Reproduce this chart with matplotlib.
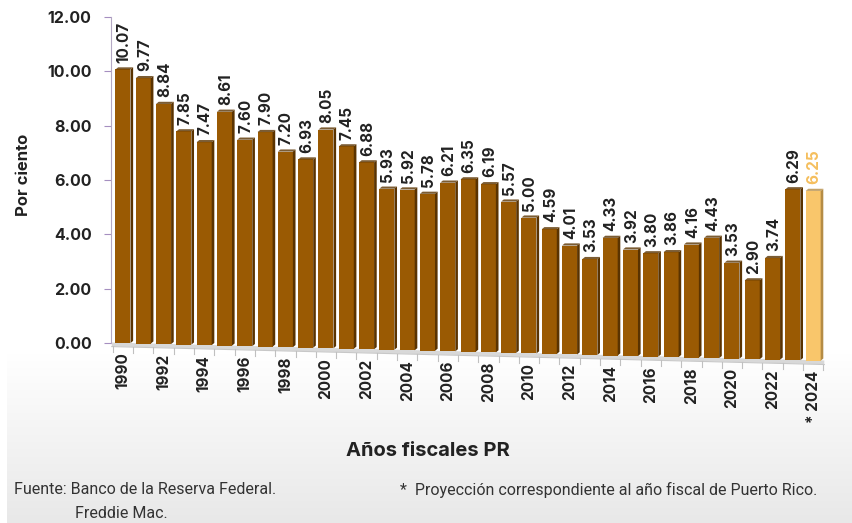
import numpy as np
import matplotlib.pyplot as plt
from matplotlib.patches import Polygon

# Data
years = list(range(1990, 2025))
values = [10.07, 9.77, 8.84, 7.85, 7.47, 8.61, 7.60, 7.90, 7.20, 6.93,
          8.05, 7.45, 6.88, 5.93, 5.92, 5.78, 6.21, 6.35, 6.19, 5.57,
          5.00, 4.59, 4.01, 3.53, 4.33, 3.92, 3.80, 3.86, 4.16, 4.43,
          3.53, 2.90, 3.74, 6.29, 6.25]
value_labels = ['%.2f' % v for v in values]
tick_labels = [str(y) for y in years[::2]]
tick_labels[-1] = '* 2024'
yticks = [0, 2, 4, 6, 8, 10, 12]

plt.rcParams['font.family'] = ['Inter', 'DejaVu Sans']

fig = plt.figure(figsize=(8.53, 5.23), dpi=100)

# grey gradient panel at the bottom
bg = fig.add_axes([7 / 853, 0, 1 - 7 / 853, 170 / 523], zorder=0)
g = np.linspace(1.0, 0.91, 100)
grad = np.dstack([g, g, g]).reshape(100, 1, 3)
bg.imshow(grad, aspect='auto', extent=[0, 1, 0, 1], origin='upper')
bg.axis('off')

ax = fig.add_axes([111 / 853, 143 / 523, 719 / 853, 370 / 523], zorder=1)
ax.patch.set_alpha(0)

n = len(values)
x = np.arange(n)
slope = 0.65 / (n - 1)          # perspective drop of the floor
shift = slope * x
w = 0.74
front = '#9a5a03'
side = '#5a3300'
last_front = '#f9c66b'
last_side = '#b58c45'

# floor
x0, x1 = -0.55, n - 0.45
fl = Polygon([[x0, 0.02], [x1, -slope * x1 + 0.02],
              [x1, -slope * x1 - 0.12], [x0, -0.12]],
             closed=True, fc='#d8d8d8', ec='none', zorder=1)
ax.add_patch(fl)
ax.plot([x0, x1], [-0.13, -slope * x1 - 0.13], color='#c8c8c8', lw=0.8, zorder=1)
for b in np.arange(-0.5, n, 1.0):
    yb = -slope * b - 0.13
    ax.plot([b, b], [yb, yb - 0.22], color='#c0c0c0', lw=0.8, zorder=1)

for i, v in enumerate(values):
    fc = last_front if i == n - 1 else front
    sc = last_side if i == n - 1 else side
    b = -shift[i]
    ax.bar(x[i], v, width=w, bottom=b, color=fc, zorder=3)
    sp = Polygon([[x[i] + w / 2, b], [x[i] + w / 2 + 0.13, b + 0.08],
                  [x[i] + w / 2 + 0.13, b + v + 0.08], [x[i] + w / 2, b + v]],
                 closed=True, fc=sc, ec='none', zorder=3)
    ax.add_patch(sp)
    tp = Polygon([[x[i] - w / 2, b + v], [x[i] + w / 2, b + v],
                  [x[i] + w / 2 + 0.13, b + v + 0.08], [x[i] - w / 2 + 0.13, b + v + 0.08]],
                 closed=True, fc=sc, ec='none', zorder=3, alpha=0.8)
    ax.add_patch(tp)
    ax.text(x[i] + 0.05, b + v + 0.25, value_labels[i], rotation=90,
            ha='center', va='bottom', fontsize=11, fontweight='bold',
            color='#f5bf5e' if i == n - 1 else '#222222', zorder=4)

# sloped year labels
for k, lab in enumerate(tick_labels):
    i = 2 * k
    ax.text(x[i], -shift[i] - 0.35, lab, rotation=90, ha='center', va='top',
            fontsize=11, fontweight='bold', color='#222222')

ax.set_xlim(-0.59, 34.83)
ax.set_ylim(-1.36, 12.26)
ax.set_yticks(yticks)
ax.set_yticklabels(['%.2f' % t for t in yticks], fontsize=11.5,
                   fontweight='bold', color='#222222')
ax.tick_params(axis='y', colors='#a58fc0', labelcolor='#222222',
               length=5, pad=9)
ax.set_xticks([])
for s in ['top', 'right', 'bottom']:
    ax.spines[s].set_visible(False)
ax.spines['left'].set_bounds(0, 12)
ax.spines['left'].set_color('#b4a8c4')

fig.text(24 / 853, 1 - 175 / 523, 'Por ciento', rotation=90, ha='center',
         va='center', fontsize=12, fontweight='bold', color='#222222')
fig.text(428 / 853, 1 - 451 / 523, 'Años fiscales PR', ha='center',
         va='center', fontsize=14.5, fontweight='bold', color='#222222')

fig.text(14 / 853, 1 - 490 / 523, 'Fuente: Banco de la Reserva Federal.',
         ha='left', va='center', fontsize=11.5, family='Roboto', color='#333333')
fig.text(75 / 853, 1 - 514 / 523, 'Freddie Mac.', ha='left', va='center',
         fontsize=11.5, family='Roboto', color='#333333')
fig.text(400 / 853, 1 - 490 / 523,
         '*  Proyección correspondiente al año fiscal de Puerto Rico.',
         ha='left', va='center', fontsize=11.5, family='Roboto', color='#333333')

fig.savefig('out.png', dpi=100)
